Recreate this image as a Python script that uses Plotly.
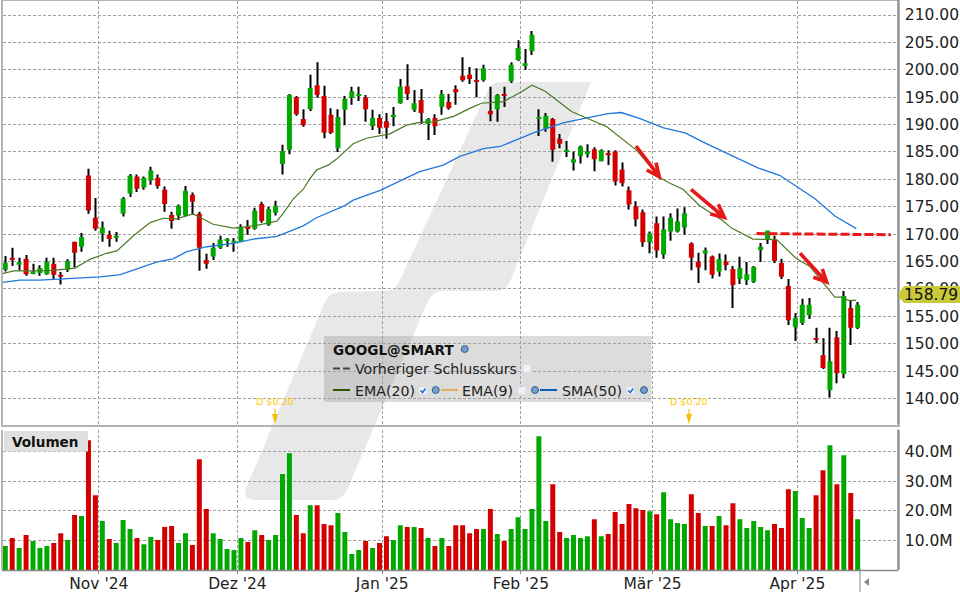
#%%
import plotly.graph_objects as go

# candles
opens = [163.5,165.7,164.4,165.5,162.9,162.9,162.7,164.6,162.6,163.5,168.6,167.7,180.7,173,170.1,169.9,169.3,173.7,177.4,180.5,
         178.5,179.8,180.3,178.1,173.5,173.4,173.4,177.2,173.7,165.3,165.9,167.5,168.8,168.4,168.6,171.3,171,175.5,171.7,173.9,
         182.8,185.4,195,191,192.8,197.2,195.2,191.8,185.7,192.7,194.9,195.2,195,189.7,191.2,190.6,191.4,193.9,197,192.7,
         194.5,190.1,191.2,193.2,194.1,196.5,198.9,199.1,198.1,198.1,192.5,192.8,195.6,197.9,201.8,200.7,203.4,191,189.2,191,
         187.4,185,183.1,184.2,184.75,185.5,183.3,184.75,185.1,181.8,178,175.1,174,168.5,172,166.3,170.5,170.5,171.2,168.3,
         165,166.45,165.9,163.2,165,163.65,161.8,161.6,161.3,167.1,169,169,164.75,160.55,153,153.8,155.2,151,147.9,141.5,
         151.2,144.45,156.5,152.9]
highs = [166,167.5,165.7,166.2,164.6,164.3,165.7,165.7,163.1,165.4,168.6,170.2,181.95,176.6,172.3,170.6,170.4,176.8,181,180.9,
         180.5,182.3,180.9,178.7,174.1,175.4,178.8,177.6,174.1,166.4,168.4,169.7,169.3,169.3,171.8,172.6,174.8,175.9,175,176.1,
         186.3,195.6,195.2,192.8,199.1,201.4,197.1,193,192.8,195.2,196.9,196.9,195.4,192.7,191.9,192.1,193.2,198.3,201,196.3,
         196.5,191.2,191.9,196.3,195.6,197.2,202.3,200.5,200.3,200.9,196.9,195.6,196.9,201.4,205.4,203.8,207.1,192.8,192.1,191.2,
         188.3,187,185.1,186.2,186.4,185.85,185.5,185.3,185.3,183.1,178.7,176,174.5,170.5,173.2,173.2,173.8,174.7,174.9,168.5,
         166.6,167.55,166.1,166.45,166.3,164.2,165.85,164.9,164.2,168.4,170.6,169.7,165.5,161.8,155.6,158.2,158.35,152.9,151,152.9,
         152.3,159.6,158,157.6]
lows = [163.2,164.2,163.4,162.4,162.7,162.4,162.6,161.8,160.8,163.1,163.9,166.8,173.7,170.6,168.6,167.7,168.6,173.2,176.8,177.7,
        178.1,179,178.3,174.1,171,172.6,173.2,173.5,163.3,163.7,165.3,167.3,167.7,166.8,168.6,169.9,170.8,172.1,171.5,173.4,
        180.9,184.6,191.6,189.6,192.5,194.9,187.5,188.3,185,189.9,193.6,194.3,190.5,189,188.3,187.4,189.7,193.8,194.5,192.3,
        190.1,187.2,188.1,191.8,192.7,193.6,197.8,197.4,195,197.8,190.6,190.5,193.2,197.6,201.6,200,202.7,187.9,188.7,183.2,
        185.7,184.1,181.6,182.9,184,181.5,183.3,182.6,178.9,178.7,174.5,171.4,167.7,166.5,165.7,165.5,168.8,170.3,169.9,163.4,
        161.1,163.4,161.9,162.25,163.4,156.5,160.9,160.7,161.1,164.9,168.2,164.75,161.8,153.4,150.5,153.4,154.5,150.1,145.4,140.2,
        142.8,143.7,149.75,152.7]
closes = [164.8,165.3,164.9,162.7,163.2,163.8,164.9,162.6,162.2,165.1,166.6,169.5,174.3,171,171.2,169.1,169.7,176.5,180.7,178.3,
          180.3,181.6,178.8,175.5,172.4,175.2,177.9,175.9,167.5,164.6,167.5,169,169.1,168.8,171.3,171,174.3,172.4,174.6,175.2,
          185.2,195.4,191.9,189.9,196.7,195.4,188.5,188.5,191.4,194.7,196.1,195.6,192.8,191.2,189.4,189.4,191.8,196.9,195.6,193.9,
          192.1,191,189.7,195.6,193,195.9,198.1,198.3,197.8,200.3,191.9,195.4,195.2,200.9,204,201.2,206.4,191.4,191.6,185.4,
          186.5,185.4,183.65,186,185.1,183.65,185.3,184.4,179.6,179.3,175.4,172.7,168.5,170.1,167,170.85,173,172.3,173.8,165.7,
          163.9,167,162.6,165.4,164.3,160.7,163.8,162.7,164,167.7,170.6,165.1,162.2,154.3,154.7,157.1,157.1,150.7,145.55,146.8,
          144.6,158.7,152.9,157.1]
volumes = [8.2,10.9,7.5,11.9,9.9,7.5,8.2,9.2,12.5,10.2,18.6,18.3,43.8,25.3,16.6,10.5,9.2,16.9,13.9,10.9,
           8.8,11.2,10.2,14.6,14.9,9.2,12.5,8.5,37.4,20.6,12.5,10.5,7.2,6.8,10.9,9.5,13.5,11.9,10.2,11.9,
           32.4,39.4,18.6,12.5,21.9,21.9,15.6,15.2,19.3,12.9,5.5,6.8,9.9,7.5,9.2,11.5,10.2,15.2,14.6,14.6,
           14.2,10.9,8.2,10.9,8.2,15.2,15.2,12.5,13.9,13.9,20.6,12.2,9.9,13.9,17.9,13.9,20.6,45.1,16.6,29,
           12.9,10.9,11.9,10.9,11.5,17.2,11.5,12.2,19.6,15.6,22.3,20.9,20.3,19.9,18.9,26.3,17.2,15.9,15.6,25.6,
           19.3,14.9,14.9,18.3,15.2,22.6,17.2,14.2,16.6,14.6,13.5,15.6,14.2,27.3,26.7,17.6,14.2,25.3,33.7,42.1,
           29,38.7,26,17.2]

# indicator lines, vertices
ema_x = [-0.4,1.2,4,6.9,10.06,12.2,14.6,16.1,18.5,20.9,22.8,24.7,27.1,30,32.9,35.8,38.2,39.2,40.1,41.6,43,44,44.9,46.6,47.8,50.2,52.1,55.5,57.9,
         59.8,61.8,64.7,67.1,68.7,71.9,74.5,76,77.9,79.6,81.7,86.8,89.6,91.1,94.5,95.9,97.8,100.2,103.5,104.8,107.9,111.3,114.1,116.1,119.7,120.9,121.6,122.8]
ema_y = [162.8,163.3,163.3,163.4,163.8,165.4,166.5,166.95,169.7,172.1,172.9,172.8,173.7,171.8,171.1,171.5,172.1,172.4,173.8,176.5,178.2,180.2,181.7,182.6,183.7,186.5,187.5,188.3,189.9,
         190.4,190.5,191.5,193,193.9,194.2,196,197.2,196.1,194.45,192.4,189.6,186.8,185.3,180.3,179.3,178.2,175.2,172.5,171.1,169.1,169,165.6,164.1,158.5,158.5,157.9,157.9]
sma_x = [-0.4,2.1,5,7.9,13.7,16.6,19.4,21.8,24.2,26.2,29.1,32.9,35.8,39.2,43,44.9,49,50.2,54.1,57.4,59.8,63.2,65.6,69,71.4,74.3,76.2,78.1,80.5,83.4,
         86,87,88.9,91.6,95,98.1,100.7,103.1,106.5,108.6,111.8,114.2,116.8,119.7,122.8]
sma_y = [161.2,161.6,161.6,161.8,162.2,162.6,163.8,164.9,165.5,166.8,167.7,168.3,169.1,169.6,171.5,173,175.2,176.2,178,180,181.4,182.6,184.2,185.6,186,187.5,188.5,189.3,190.3,191.1,
         191.7,192,192.2,191.1,189.4,188.5,186.8,185.4,183.3,182.1,180.7,178.7,176.5,173.3,171]

# red level line drawn on the chart
level_x = [108.4, 127.8]
level_y = [170.1, 169.9]

month_pos = [13.5, 33.5, 54.4, 74.4, 93.4, 114.3]
month_labels = ["Nov '24", "Dez '24", "Jan '25", "Feb '25", "Mär '25", "Apr '25"]
price_ticks = [140, 145, 150, 155, 160, 165, 170, 175, 180, 185, 190, 195, 200, 205, 210]
vol_ticks = [10, 20, 30, 40]
last_price = "158.79"

GREEN = "#00a800"
RED = "#d40000"
GRID = "#a0a0a0"
FONT = "DejaVu Sans"
TICK_SIZE = 15.5

def px(x):
    return x / 960

def py(y):
    return 1 - y / 600

def paper_path(d):
    # d is a list of svg commands and pixel points
    out = []
    for item in d:
        if isinstance(item, str):
            out.append(item)
        else:
            out.append(f"{px(item[0]):.5f},{py(item[1]):.5f}")
    return " ".join(out)

def rect(x0, y0, x1, y1, fill, layer="above"):
    return dict(type="rect", xref="paper", yref="paper", x0=px(x0), x1=px(x1), y0=py(y0), y1=py(y1),
                fillcolor=fill, line_width=0, layer=layer)

def seg(x0, y0, x1, y1, color, width=1, dash="solid"):
    return dict(type="line", xref="paper", yref="paper", x0=px(x0), x1=px(x1), y0=py(y0), y1=py(y1),
                line=dict(color=color, width=width, dash=dash))

def gear(x, y):
    return dict(type="circle", xref="paper", yref="paper", x0=px(x-3.5), x1=px(x+3.5), y0=py(y+3.5), y1=py(y-3.5),
                fillcolor="#6f9fd0", line=dict(color="#3f5f80", width=1))

def checkbox(x, y, checked):
    boxes = [rect(x-3.5, y-3.5, x+3.5, y+3.5, "#f0f0fa")]
    if checked:
        boxes.append(dict(type="path", xref="paper", yref="paper",
                          path=paper_path(["M", (x-2.5, y), "L", (x-0.5, y+2), "L", (x+2.5, y-2)]),
                          line=dict(color="#1a6fd8", width=1.6)))
    return boxes

def red_arrow(start, tip, barb1, barb2):
    return dict(type="path", xref="paper", yref="paper", layer="above",
                path=paper_path(["M", start, "L", tip, "M", barb1, "L", tip, "L", barb2]),
                line=dict(color="#e81818", width=3.6))

def label(x, y, text, size=14, bold=False, color="#222222", anchor="left"):
    return dict(xref="paper", yref="paper", x=px(x), y=py(y), text=f"<b>{text}</b>" if bold else text, showarrow=False,
                xanchor=anchor, yanchor="middle", font=dict(family=FONT, size=size, color=color), borderpad=0, borderwidth=0)

#%%
idx = list(range(len(closes)))
colors = [GREEN if c >= o else RED for o, c in zip(opens, closes)]

fig = go.Figure()
fig.add_trace(go.Bar(x=idx, y=[h - l for h, l in zip(highs, lows)], base=lows, width=0.15, marker=dict(color="#000000", line_width=0),
                     xaxis="x", yaxis="y", hoverinfo="skip"))
fig.add_trace(go.Bar(x=idx, y=[c - o for o, c in zip(opens, closes)], base=opens, width=0.72, marker=dict(color=colors, line_width=0),
                     xaxis="x", yaxis="y"))
fig.add_trace(go.Scatter(x=ema_x, y=ema_y, mode="lines", line=dict(color="#4a7a24", width=1.2), xaxis="x", yaxis="y"))
fig.add_trace(go.Scatter(x=sma_x, y=sma_y, mode="lines", line=dict(color="#1f78dc", width=1.3), xaxis="x", yaxis="y"))
fig.add_trace(go.Scatter(x=level_x, y=level_y, mode="lines", line=dict(color="#e81818", width=3, dash="9px,3px"), xaxis="x", yaxis="y"))
fig.add_trace(go.Bar(x=idx, y=volumes, width=0.72, marker=dict(color=colors, line_width=0), xaxis="x2", yaxis="y2"))

# grey watermark behind everything
watermark = ["M", (500, 82), "L", (591, 82), "L", (510, 282), "Q", (506, 291), (495, 291), "L", (443, 291), "Q", (432, 291), (426, 305),
             "L", (347, 490), "Q", (343, 500), (332, 500), "L", (256, 500), "Q", (242, 500), (246, 488), "L", (324, 304),
             "Q", (329, 292), (340, 292), "L", (385, 291), "Q", (396, 291), (400, 280), "L", (487, 92), "Q", (491, 82), (500, 82), "Z"]
shapes = [dict(type="path", xref="paper", yref="paper", path=paper_path(watermark), fillcolor="#e8e8e8", line_width=0, layer="below"),
          rect(324, 336, 651.5, 402, "rgba(120,120,120,0.26)", "below")]

# legend box content
shapes += [seg(333, 368.5, 340, 368.5, "#444444", 2), seg(343, 368.5, 350, 368.5, "#444444", 2),
           seg(333, 390, 350, 390, "#2d5500", 2), seg(441, 390, 458, 390, "#e0b060", 2), seg(540, 390, 557, 390, "#0a5cc0", 2),
           gear(464.7, 349), gear(435.7, 390), gear(535, 390), gear(644, 390)]
shapes += checkbox(527, 368.5, False) + checkbox(423, 390.5, True) + checkbox(522, 390.5, False) + checkbox(630.7, 390.5, True)

# hand drawn arrows
shapes += [red_arrow((636, 146), (659.3, 176.7), (646.7, 170), (656, 162.7)),
           red_arrow((691, 189.3), (724.3, 217.3), (710.3, 214), (718.3, 204.3)),
           red_arrow((800, 253.3), (826.7, 282), (813.3, 277.3), (822.3, 269))]

# volume title, price tag, frame bits
shapes += [rect(4, 431, 88, 451.5, "#e0e0e0"),
           dict(type="path", xref="paper", yref="paper", path=paper_path(["M", (897, 295), "L", (904, 286), "L", (960, 286), "L", (960, 303), "L", (904, 303), "Z"]),
                fillcolor="#c9c93a", line_width=0, layer="above"),
           seg(898, 0, 898, 424.5, "#888888", 1.5), seg(898, 429.5, 898, 570.5, "#888888", 1.5), seg(2, 570.5, 898, 570.5, "#888888", 1.5),
           seg(860, 570.5, 860, 592, "#888888", 1),
           dict(type="path", xref="paper", yref="paper", path=paper_path(["M", (864, 582), "L", (869, 578), "L", (869, 586), "Z"]),
                fillcolor="#888888", line_width=0)]

# dividend markers
for x_d in [275, 689]:
    shapes += [seg(x_d, 409, x_d, 417, "#f5c000", 1.2),
               dict(type="path", xref="paper", yref="paper", path=paper_path(["M", (x_d-3, 414), "L", (x_d+3, 414), "L", (x_d, 424), "Z"]),
                    fillcolor="#f5c000", line_width=0)]

annotations = [label(332.7, 349.5, "GOOGL@SMART", 13.6, True, "#111111"),
               label(354.5, 369, "Vorheriger Schlusskurs", 14.2),
               label(354.5, 390.5, "EMA(20)", 14.2),
               label(462.3, 390.5, "EMA(9)", 14.2),
               label(561.7, 390.5, "SMA(50)", 14.2),
               label(12, 441.5, "Volumen", 13.6, True, "#111111"),
               label(904, 295, last_price, TICK_SIZE, False, "#111111"),
               label(275, 401.5, "D $0.20", 9.5, False, "#ffc800", "center"),
               label(689, 401.5, "D $0.20", 9.5, False, "#ffc800", "center")]

common_x = dict(range=[-0.404, 128.82], domain=[px(2.5), px(898)], tickmode="array", tickvals=month_pos, showgrid=True,
                gridcolor=GRID, griddash="3px,2px", gridwidth=1, zeroline=False)
tick_font = dict(family=FONT, size=TICK_SIZE, color="#222222")
fig.update_layout(
    width=960, height=600, margin=dict(l=0, r=0, t=0, b=0), autosize=False,
    paper_bgcolor="white", plot_bgcolor="rgba(0,0,0,0)", showlegend=False, barmode="overlay",
    font=dict(family=FONT, size=15, color="#222222"),
    xaxis=dict(common_x, anchor="y", showticklabels=False, ticks="", showline=True, linecolor="#b4b4b4", linewidth=1.5, mirror=True),
    xaxis2=dict(common_x, anchor="y2", ticktext=month_labels, ticks="outside", ticklen=3, tickcolor="#888888", showline=False,
                ticklabelstandoff=-4, tickfont=tick_font),
    yaxis=dict(domain=[py(424.5), py(1)], range=[135.25, 212.56], side="right", anchor="x", tickmode="array", tickvals=price_ticks,
               ticktext=[f"{v:.2f}" for v in price_ticks], showgrid=True, gridcolor=GRID, griddash="3px,2px", zeroline=False, ticks="", ticklabelstandoff=2,
               showline=True, linecolor="#b4b4b4", linewidth=1.5, mirror=True, tickfont=tick_font),
    yaxis2=dict(domain=[py(570.3), py(429.5)], range=[0, 47.4], side="right", anchor="x2", tickmode="array", tickvals=vol_ticks,
                ticktext=[f"{v:.1f}M" for v in vol_ticks], showgrid=True, gridcolor=GRID, griddash="3px,2px", zeroline=False, ticks="", ticklabelstandoff=2,
                showline=True, linecolor="#b4b4b4", linewidth=1.5, mirror=True, tickfont=tick_font),
    shapes=shapes, annotations=annotations,
)

# the page has a default body margin, drop it so the chart sits at 0,0
fig.write_html("out.html", config={"displayModeBar": False}, post_script="document.body.style.margin='0';")
# %%
